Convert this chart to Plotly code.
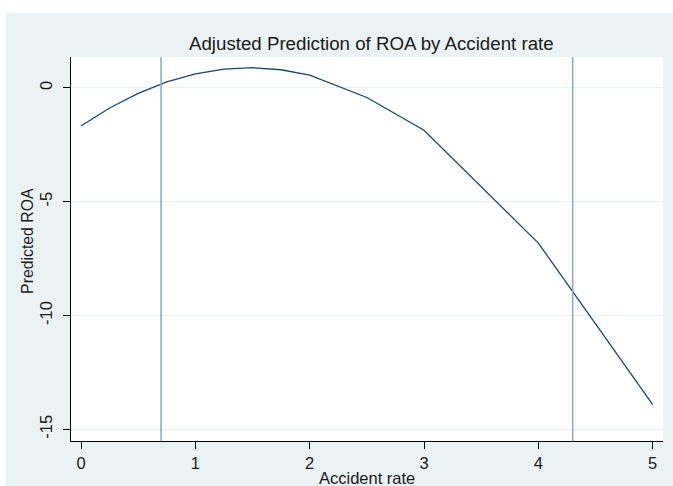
import plotly.graph_objects as go

# ---- data ----
accident_rate = [0, 0.25, 0.5, 0.75, 1, 1.25, 1.5, 1.75, 2, 2.5, 3, 4, 5]
predicted_roa = [-1.67, -0.88, -0.24, 0.27, 0.62, 0.83, 0.89, 0.80, 0.56, -0.42, -1.86, -6.82, -13.92]
ref_lines_x = [0.7, 4.3]
x_ticks = [0, 1, 2, 3, 4, 5]
y_ticks = [0, -5, -10, -15]
y_tick_labels = ["0", "-5", "-10", "-15"]

title_text = "Adjusted Prediction of ROA by Accident rate"
x_title = "Accident rate"
y_title = "Predicted ROA"

FONT = "Liberation Sans, Arial, sans-serif"
BG = "#eaf2f3"
TXT = "#1a1a1a"

fig = go.Figure()
fig.add_trace(go.Scatter(
    x=accident_rate, y=predicted_roa, mode="lines",
    line=dict(color="#1a476f", width=1.3), showlegend=False, hoverinfo="skip"))

for xv in ref_lines_x:
    fig.add_shape(type="line", xref="x", yref="paper", x0=xv, x1=xv, y0=0, y1=1,
                  line=dict(color="#8aa4d6", width=1.5), layer="above")

# white border strips (top and left) outside the graph region
fig.add_shape(type="rect", xref="paper", yref="paper", x0=-0.2, x1=1.1, y0=1.1146, y1=1.3,
              fillcolor="white", line=dict(width=0), layer="below")
fig.add_shape(type="rect", xref="paper", yref="paper", x0=-0.2, x1=-0.1098, y0=-0.3, y1=1.3,
              fillcolor="white", line=dict(width=0), layer="below")

fig.add_annotation(text=title_text, xref="paper", yref="paper", x=0.5076, y=1.035,
                   xanchor="center", yanchor="middle", showarrow=False,
                   font=dict(family=FONT, size=18.7, color=TXT))
fig.add_annotation(text=x_title, xref="paper", yref="paper", x=0.5008, y=-0.0965,
                   xanchor="center", yanchor="middle", showarrow=False,
                   font=dict(family=FONT, size=16.5, color=TXT))
fig.add_annotation(text=y_title, xref="paper", yref="paper", x=-0.0727, y=0.521,
                   xanchor="center", yanchor="middle", showarrow=False, textangle=-90,
                   font=dict(family=FONT, size=15.8, color=TXT))

fig.update_layout(
    width=673, height=486,
    margin=dict(l=71, r=10, t=57, b=45),
    paper_bgcolor=BG, plot_bgcolor="white",
    font=dict(family=FONT, color=TXT),
    xaxis=dict(range=[-0.0875, 5.09], tickvals=x_ticks, ticks="outside", ticklen=7,
               tickcolor="black", showline=True, linecolor="black", linewidth=1,
               showgrid=False, zeroline=False, tickfont=dict(size=16.5, color=TXT)),
    yaxis=dict(range=[-15.52, 1.36], tickvals=y_ticks, ticktext=y_tick_labels,
               ticks="outside", ticklen=7, tickcolor="black", tickangle=-90,
               ticklabelstandoff=4,
               showline=True, linecolor="black", linewidth=1,
               showgrid=True, gridcolor=BG, gridwidth=1, zeroline=False,
               tickfont=dict(size=16.5, color=TXT)),
)

fig.write_html("out.html", config={"displayModeBar": False},
               post_script="document.body.style.margin='0';document.body.style.overflow='hidden';")
